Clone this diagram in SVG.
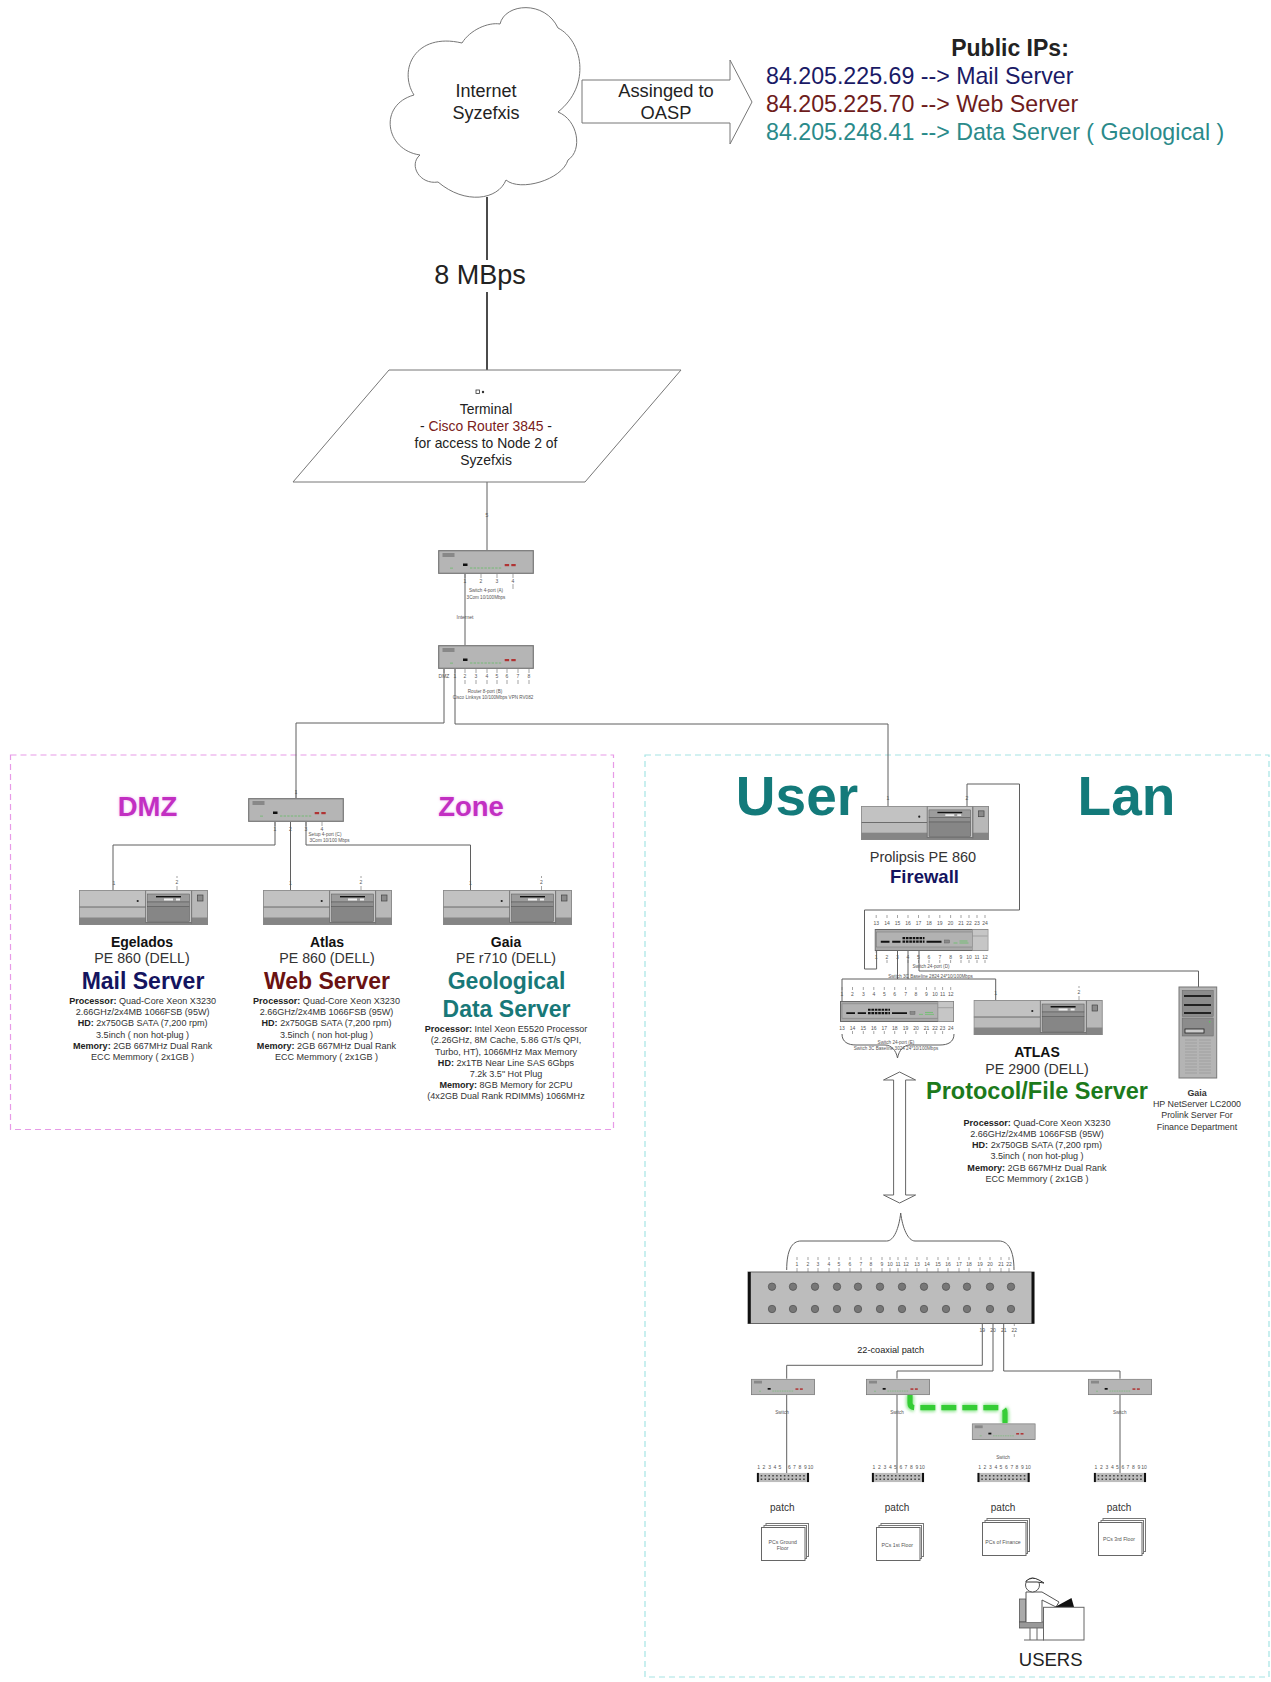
<svg xmlns="http://www.w3.org/2000/svg" width="1271" height="1682" viewBox="0 0 1271 1682">
<style>
text{font-family:"Liberation Sans",Arial,sans-serif;text-anchor:middle;fill:#222}
.c{fill:none;stroke:#5f5f5f;stroke-width:1}
.k{fill:none;stroke:#111;stroke-width:1.5}
.sh{fill:#fff;stroke:#777;stroke-width:1}
.tick{fill:none;stroke:#666;stroke-width:.6}
.p{font-size:5px;fill:#555}
.sm{font-size:4.6px;fill:#555}
.spec{font-size:9.05px;fill:#333}
.spec tspan{font-weight:bold;fill:#222}
.b15{font-size:14px;font-weight:bold;fill:#111}
.n15{font-size:14.2px;fill:#333}
.navy{fill:#14145f;font-weight:bold}
.red{fill:#6a1212;font-weight:bold}
.teal{fill:#187878;font-weight:bold}
.green{fill:#1c7a1c;font-weight:bold}
.ip{font-size:23.2px;text-anchor:start}
.mag{fill:#c22fc2;font-weight:bold;font-size:27.5px}
.big{fill:#137a7a;font-weight:bold;font-size:55px}
.patch{font-size:10px;fill:#333}
.doc{font-size:5.2px;fill:#555}
.lab{font-size:13.9px}
.fin{font-size:8.9px;fill:#333}
</style>
<defs>
<filter id="glow" x="-30%" y="-30%" width="160%" height="160%"><feGaussianBlur stdDeviation="1.6"/></filter>
<symbol id="sw4" viewBox="0 0 96 24" preserveAspectRatio="none">
<rect x=".7" y=".7" width="94.6" height="22.6" fill="#b5b5b5" stroke="#777" stroke-width="1.2"/>
<rect x="4.5" y="3" width="12" height="4" fill="#888"/>
<rect x="25" y="13.5" width="4.5" height="2.5" fill="#111"/>
<rect x="12" y="17.7" width="3" height=".8" fill="#6dbb6d"/>
<path d="M32 18H64" stroke="#6dbb6d" stroke-width=".9" stroke-dasharray="2.4 1.2" fill="none"/>
<rect x="66.7" y="14" width="4.4" height="2.2" fill="#b03434"/>
<rect x="73.3" y="14" width="4.4" height="2.2" fill="#b03434"/>
</symbol>
<symbol id="sw24" viewBox="0 0 114 22" preserveAspectRatio="none">
<rect x=".5" y=".5" width="113" height="21" fill="#a9a9a9" stroke="#666"/>
<rect x="2" y="3" width="96" height="15" fill="#b2b2b2" stroke="#777" stroke-width=".5"/>
<rect x="98" y=".5" width="15.5" height="21" fill="#c6c6c6" stroke="#888" stroke-width=".5"/>
<path d="M98 7H113" stroke="#888" stroke-width=".6"/>
<path d="M6.3 12.7H15M17.7 12.7H26M52 12.7H67" stroke="#111" stroke-width="2" fill="none"/>
<path d="M28 9.2H50M28 12.7H50" stroke="#111" stroke-width="2.2" stroke-dasharray="2.6 .8" fill="none"/>
<rect x="70" y="11" width="5" height="3" fill="#8a8a8a" stroke="#555" stroke-width=".4"/>
<path d="M79 14H83M85 12H93M85 14H94" stroke="#66c266" stroke-width=".8" fill="none"/>
</symbol>
<symbol id="server" viewBox="0 0 129 35" preserveAspectRatio="none">
<rect width="129" height="35" fill="#b8b8b8"/>
<rect x="0" y="0" width="67" height="17" fill="#c2c2c2"/>
<rect x="0" y="17" width="67" height="10.5" fill="#bbb"/>
<rect y="27.5" width="129" height="7.5" fill="#858585"/>
<path d="M0 17H67" stroke="#555" stroke-width=".8"/>
<rect x="66.7" y="0" width="46" height="32.5" fill="#c6c6c6" stroke="#666" stroke-width=".8"/>
<rect x="68.5" y="4" width="42" height="8" fill="#9c9c9c" stroke="#555" stroke-width=".5"/>
<path d="M77 6.7H102" stroke="#111" stroke-width="1.4"/>
<path d="M85 9.5H94M97 9.5H101" stroke="#eee" stroke-width="1.8"/>
<rect x="68.5" y="12" width="42" height="4.5" fill="#8f8f8f" stroke="#555" stroke-width=".5"/>
<rect x="68.5" y="16.5" width="42" height="15" fill="#868686" stroke="#555" stroke-width=".5"/>
<rect x="118.5" y="5" width="5.5" height="6" fill="#8a8a8a" stroke="#444" stroke-width=".7"/>
<rect x="112.7" y="0" width="16.3" height="35" fill="none" stroke="#777" stroke-width=".6"/>
<circle cx="58.7" cy="11" r="1.1" fill="#222"/>
<rect x=".4" y=".4" width="128.2" height="34.2" fill="none" stroke="#888" stroke-width=".8"/>
</symbol>
<symbol id="minipatch" viewBox="0 0 53 9.5" preserveAspectRatio="none">
<rect width="53" height="9.5" rx="1" fill="#bdbdbd"/>
<rect width="2.2" height="9.5" fill="#111"/><rect x="50.8" width="2.2" height="9.5" fill="#111"/>
<path d="M4 3H50M4 6.6H50" stroke="#444" stroke-width="1.5" stroke-dasharray="1.6 2.3" fill="none"/>
</symbol>
<symbol id="docs" viewBox="0 0 48 38" preserveAspectRatio="none">
<rect x="5" y=".5" width="42.5" height="33" fill="#fff" stroke="#777"/>
<rect x="3" y="2.5" width="42.5" height="33" fill="#fff" stroke="#777"/>
<rect x=".5" y="4.5" width="43.5" height="33" fill="#fff" stroke="#666"/>
</symbol>
</defs>
<rect width="1271" height="1682" fill="#fff"/>

<g id="zones">
<rect x="10.5" y="755" width="603" height="374.5" fill="none" stroke="#e79ae7" stroke-width="1.2" stroke-dasharray="6 4"/>
<rect x="645" y="755" width="624" height="922" fill="none" stroke="#a6e4e4" stroke-width="1.2" stroke-dasharray="6 4"/>
</g>

<g id="connectors">
<path class="k" d="M487 197V260M487 292V370"/>
<path class="c" d="M487 482V550"/>
<path class="c" d="M465 574V645"/>
<path class="c" d="M444 669V723H296V798"/>
<path class="c" d="M455 669V724H888V806"/>
<path class="c" d="M275 822V845H113V890"/>
<path class="c" d="M290.500 822V890"/>
<path class="c" d="M306 822V845H470.500V890"/>
<path class="c" d="M967 806V784H1019.500V910H864.500V969H876.600V951"/>
<path class="c" d="M897.500 951V979M842 1001V979H995.700V1000"/>
<path class="c" d="M908 951V979"/>
<path class="c" d="M919 951V971H1198.500V987"/>
<path class="c" d="M982.300 1323V1365.300H786.700V1378.700"/>
<path class="c" d="M993 1323V1371H897V1378.700"/>
<path class="c" d="M1003.700 1323V1371H1120V1378.700"/>
<path class="c" d="M786.700 1395V1482M897 1395V1482M1120 1395V1482"/>
<path d="M910 1395V1403Q910 1407.700 915 1407.700H1000Q1005 1407.700 1005 1412.700V1423" fill="none" stroke="#9be89b" stroke-width="8.500" stroke-dasharray="15 6" filter="url(#glow)"/>
<path d="M910 1395V1403Q910 1407.700 915 1407.700H1000Q1005 1407.700 1005 1412.700V1423" fill="none" stroke="#35cd35" stroke-width="5.200" stroke-dasharray="15 6"/>
<path id="brace-e" class="c" d="M842 1034C842 1042 848 1045 856 1045H885C891 1045 896 1050 897.500 1058C899 1050 904 1045 910 1045H940C948 1045 954 1042 954 1034"/>
<path id="brace-patch" class="c" d="M786.700 1270C786.700 1250 792 1241 801 1241H886.700C894 1241 899 1228 900.700 1213C902.500 1228 908 1241 915 1241H999C1008 1241 1014 1250 1014 1270"/>
<path id="updown-arrow" d="M899.600 1072L915.600 1080H905.600V1195H915.600L899.600 1203L883.500 1195H893.600V1080H883.500Z" fill="#fff" stroke="#666" stroke-width="1"/>
</g>

<g id="internet">
<path class="sh" d="M500 24C505 3 545 0 558 28C582 40 592 85 558 112C578 120 583 150 568 160C562 180 520 192 506 180C498 200 465 205 438 182C420 185 408 165 420 155C385 150 378 105 414 95C398 70 415 32 462 43C470 30 488 22 500 24Z"/>
<text x="486" y="97" font-size="18">Internet</text>
<text x="486" y="119" font-size="18">Syzefxis</text>
</g>
<g id="assign-arrow">
<path class="sh" d="M582 80H730V60L752 102L730 144V123H582Z"/>
<text x="666" y="97" font-size="18.300">Assinged to</text>
<text x="666" y="119" font-size="18.300">OASP</text>
</g>
<g id="public-ips">
<text x="1010" y="56" font-size="23" font-weight="bold" fill="#111">Public IPs:</text>
<text class="ip" x="766" y="84" style="fill:#1a1a66">84.205.225.69 --&gt; Mail Server</text>
<text class="ip" x="766" y="112" style="fill:#6e1c1c">84.205.225.70 --&gt; Web Server</text>
<text class="ip" x="766" y="140" style="fill:#2a8a8a">84.205.248.41 --&gt; Data Server ( Geological )</text>
</g>
<g id="speed"><text x="480" y="284" font-size="27">8 MBps</text></g>

<g id="terminal">
<path class="sh" d="M389 370H681L585 482H293Z"/>
<rect x="476" y="390" width="3.500" height="3.500" fill="none" stroke="#333" stroke-width=".8"/><circle cx="483" cy="392" r="1.200" fill="#333"/>
<text class="lab" x="486" y="413.500">Terminal</text>
<text class="lab" x="486" y="430.500"><tspan>- </tspan><tspan fill="#7a2020">Cisco Router 3845</tspan><tspan>  -</tspan></text>
<text class="lab" x="486" y="447.500">for access to Node 2 of</text>
<text class="lab" x="486" y="464.500">Syzefxis</text>
</g>

<g id="switch-a">
<use href="#sw4" x="438" y="550" width="96" height="24"/>
<path class="tick" d="M465 574V578M481 574V578M497 574V578M513 574V578M513 584V589"/>
<text class="p" x="487" y="517">5</text>
<text class="p" x="465" y="583">1</text><text class="p" x="481" y="583">2</text><text class="p" x="497" y="583">3</text><text class="p" x="513" y="583">4</text>
<text class="sm" x="486" y="592">Switch 4-port (A)</text>
<text class="sm" x="486" y="598.500">3Com 10/100Mbps</text>
<text class="p" x="465" y="619">Internet</text>
</g>
<g id="router-b">
<use href="#sw4" x="438" y="645" width="96" height="24"/>
<path class="tick" d="M444 669V673M455 669V673M465 669V673M476 669V673M487 669V673M497 669V673M507 669V673M518 669V673M529 669V673M465 680V684M476 680V684M487 680V684M497 680V684M507 680V684M518 680V684M529 680V684"/>
<text class="p" x="444" y="678">DMZ</text><text class="p" x="455" y="678">1</text><text class="p" x="465" y="678">2</text><text class="p" x="476" y="678">3</text><text class="p" x="487" y="678">4</text><text class="p" x="497" y="678">5</text><text class="p" x="507" y="678">6</text><text class="p" x="518" y="678">7</text><text class="p" x="529" y="678">8</text>
<text class="sm" x="485" y="693">Router 8-port (B)</text>
<text class="sm" x="493" y="699">Cisco Linksys 10/100Mbps VPN RV082</text>
</g>

<g id="dmz-zone">
<text class="mag" x="147.500" y="816" style="fill:#f2b4f2" filter="url(#glow)">DMZ</text>
<text class="mag" x="147.500" y="816">DMZ</text>
<text class="mag" x="471" y="816" style="fill:#f2b4f2" filter="url(#glow)">Zone</text>
<text class="mag" x="471" y="816">Zone</text>
</g>
<g id="switch-c">
<use href="#sw4" x="248" y="798" width="96" height="24"/>
<path class="tick" d="M296 790V798M275 822V826M290.500 822V826M306 822V826M322 822V826"/>
<text class="p" x="296" y="794" style="font-size:4.500px">1</text>
<text class="p" x="275" y="831">1</text><text class="p" x="290.500" y="831">2</text><text class="p" x="306" y="831">3</text><text class="p" x="322" y="831">4</text>
<text class="sm" x="325" y="835.500">Setup 4-port (C)</text>
<text class="sm" x="329.500" y="841.500">3Com 10/100 Mbps</text>
</g>

<g id="egelados">
<use href="#server" x="79" y="890" width="129" height="35"/>
<path class="tick" d="M177 876V878M177 886V890"/>
<text class="p" x="114" y="885">1</text><text class="p" x="177" y="884">2</text>
<text class="b15" x="142" y="947">Egelados</text>
<text class="n15" x="142" y="963">PE 860 (DELL)</text>
<text class="navy" x="143" y="989" font-size="23">Mail Server</text>
<text class="spec" x="142.600" y="1004"><tspan>Processor:</tspan>  Quad-Core Xeon X3230</text>
<text class="spec" x="142.600" y="1015">2.66GHz/2x4MB 1066FSB (95W)</text>
<text class="spec" x="142.600" y="1026"><tspan>HD:</tspan> 2x750GB SATA (7,200 rpm)</text>
<text class="spec" x="142.600" y="1038">3.5inch ( non hot-plug )</text>
<text class="spec" x="142.600" y="1049"><tspan>Memory:</tspan>  2GB 667MHz Dual Rank</text>
<text class="spec" x="142.600" y="1060">ECC Memmory ( 2x1GB )</text>
</g>
<g id="atlas-web">
<use href="#server" x="263" y="890" width="129" height="35"/>
<path class="tick" d="M361 876V878M361 886V890"/>
<text class="p" x="290.500" y="885">1</text><text class="p" x="361" y="884">2</text>
<text class="b15" x="327" y="947">Atlas</text>
<text class="n15" x="327" y="963">PE 860 (DELL)</text>
<text class="red" x="327" y="989" font-size="23">Web Server</text>
<text class="spec" x="326.500" y="1004"><tspan>Processor:</tspan>  Quad-Core Xeon X3230</text>
<text class="spec" x="326.500" y="1015">2.66GHz/2x4MB 1066FSB (95W)</text>
<text class="spec" x="326.500" y="1026"><tspan>HD:</tspan> 2x750GB SATA (7,200 rpm)</text>
<text class="spec" x="326.500" y="1038">3.5inch ( non hot-plug )</text>
<text class="spec" x="326.500" y="1049"><tspan>Memory:</tspan>  2GB 667MHz Dual Rank</text>
<text class="spec" x="326.500" y="1060">ECC Memmory ( 2x1GB )</text>
</g>
<g id="gaia-geo">
<use href="#server" x="443" y="890" width="129" height="35"/>
<path class="tick" d="M541.500 876V878M541.500 886V890"/>
<text class="p" x="470.500" y="885">1</text><text class="p" x="541.500" y="884">2</text>
<text class="b15" x="506" y="947">Gaia</text>
<text class="n15" x="506" y="963">PE r710 (DELL)</text>
<text class="teal" x="506.500" y="989" font-size="23">Geological</text>
<text class="teal" x="506.500" y="1017" font-size="23">Data Server</text>
<text class="spec" x="506" y="1032"><tspan>Processor:</tspan>  Intel Xeon E5520 Processor</text>
<text class="spec" x="506" y="1043">(2.26GHz, 8M Cache, 5.86 GT/s QPI,</text>
<text class="spec" x="506" y="1055">Turbo, HT), 1066MHz Max Memory</text>
<text class="spec" x="506" y="1066"><tspan>HD:</tspan> 2x1TB Near Line SAS 6Gbps</text>
<text class="spec" x="506" y="1077">7.2k 3.5" Hot Plug</text>
<text class="spec" x="506" y="1088"><tspan>Memory:</tspan>  8GB Memory for 2CPU</text>
<text class="spec" x="506" y="1099">(4x2GB Dual Rank RDIMMs) 1066MHz</text>
</g>

<g id="user-lan">
<text class="big" x="797" y="815">User</text>
<text class="big" x="1126.500" y="815" style="font-size:55px">Lan</text>
</g>
<g id="firewall">
<use href="#server" x="861" y="806" width="128" height="34"/>
<text class="p" x="888" y="800">1</text><text class="p" x="967" y="800">2</text>
<text class="n15" x="923" y="862" style="font-size:14.500px">Prolipsis PE 860</text>
<text class="navy" x="924.500" y="883" font-size="18.500">Firewall</text>
</g>
<g id="switch-d">
<use href="#sw24" x="874.500" y="929" width="114" height="22"/>
<path class="tick" d="M876.200 915V918M887 915V918M897.500 915V918M908 915V918M918.500 915V918M929 915V918M939.800 915V918M950.600 915V918M961 915V918M969 915V918M977 915V918M985 915V918M876.200 951V953M887 960V963M897.500 960V963M908 960V963M918.500 960V963M929 960V963M939.800 960V963M950.600 960V963M961 960V963M969 960V963M977 960V963M985 960V963"/>
<text class="p" x="876.200" y="925">13</text><text class="p" x="887" y="925">14</text><text class="p" x="897.500" y="925">15</text><text class="p" x="908" y="925">16</text><text class="p" x="918.500" y="925">17</text><text class="p" x="929" y="925">18</text><text class="p" x="939.800" y="925">19</text><text class="p" x="950.600" y="925">20</text><text class="p" x="961" y="925">21</text><text class="p" x="969" y="925">22</text><text class="p" x="977" y="925">23</text><text class="p" x="985" y="925">24</text>
<text class="p" x="876.200" y="959">1</text><text class="p" x="887" y="959">2</text><text class="p" x="897.500" y="959">3</text><text class="p" x="908" y="959">4</text><text class="p" x="918.500" y="959">5</text><text class="p" x="929" y="959">6</text><text class="p" x="939.800" y="959">7</text><text class="p" x="950.600" y="959">8</text><text class="p" x="961" y="959">9</text><text class="p" x="969" y="959">10</text><text class="p" x="977" y="959">11</text><text class="p" x="985" y="959">12</text>
<text class="sm" x="931" y="967.500">Switch 24-port (D)</text>
<text class="sm" x="930.500" y="978">Switch 3C Baseline  2824 24*10/100Mbps</text>
</g>
<g id="switch-e">
<use href="#sw24" x="840" y="1001" width="114" height="21"/>
<path class="tick" d="M842 987V990M852.500 987V990M863.300 987V990M873.800 987V990M884.300 987V990M894.700 987V990M905.600 987V990M916 987V990M926.500 987V990M935 987V990M942.600 987V990M950.700 987V990M852.500 1031V1034M863.300 1031V1034M873.800 1031V1034M884.300 1031V1034M894.700 1031V1034M905.600 1031V1034M916 1031V1034M926.500 1031V1034M935 1031V1034M942.600 1031V1034"/>
<text class="p" x="842" y="996">1</text><text class="p" x="852.500" y="996">2</text><text class="p" x="863.300" y="996">3</text><text class="p" x="873.800" y="996">4</text><text class="p" x="884.300" y="996">5</text><text class="p" x="894.700" y="996">6</text><text class="p" x="905.600" y="996">7</text><text class="p" x="916" y="996">8</text><text class="p" x="926.500" y="996">9</text><text class="p" x="935" y="996">10</text><text class="p" x="942.600" y="996">11</text><text class="p" x="950.700" y="996">12</text>
<text class="p" x="842" y="1030">13</text><text class="p" x="852.500" y="1030">14</text><text class="p" x="863.300" y="1030">15</text><text class="p" x="873.800" y="1030">16</text><text class="p" x="884.300" y="1030">17</text><text class="p" x="894.700" y="1030">18</text><text class="p" x="905.600" y="1030">19</text><text class="p" x="916" y="1030">20</text><text class="p" x="926.500" y="1030">21</text><text class="p" x="935" y="1030">22</text><text class="p" x="942.600" y="1030">23</text><text class="p" x="950.700" y="1030">24</text>
<text class="sm" x="896" y="1044">Switch 24-port (E)</text>
<text class="sm" x="896" y="1050">Switch 3C Baseline 3024 24*10/100Mbps</text>
</g>
<g id="atlas-file">
<use href="#server" x="973.600" y="1000" width="129" height="35"/>
<path class="tick" d="M1079 986V988M1079 996V1000"/>
<text class="p" x="995.700" y="995">1</text><text class="p" x="1079" y="994">2</text>
<text class="b15" x="1037" y="1057">ATLAS</text>
<text class="n15" x="1037" y="1074">PE 2900 (DELL)</text>
<text class="green" x="1037" y="1099" font-size="23.500">Protocol/File Server</text>
<text class="spec" x="1037" y="1126"><tspan>Processor:</tspan>  Quad-Core Xeon X3230</text>
<text class="spec" x="1037" y="1137">2.66GHz/2x4MB 1066FSB (95W)</text>
<text class="spec" x="1037" y="1148"><tspan>HD:</tspan> 2x750GB SATA (7,200 rpm)</text>
<text class="spec" x="1037" y="1159">3.5inch ( non hot-plug )</text>
<text class="spec" x="1037" y="1171"><tspan>Memory:</tspan>  2GB 667MHz Dual Rank</text>
<text class="spec" x="1037" y="1182">ECC Memmory ( 2x1GB )</text>
</g>
<g id="gaia-finance">
<rect x="1179" y="987" width="37.700" height="91" fill="#b4b4b4" stroke="#777"/>
<rect x="1182.200" y="990.300" width="31" height="26" fill="#8c8c8c" stroke="#666" stroke-width=".5"/>
<path d="M1184 996H1211M1184 1005H1211M1184 1013H1211" stroke="#222" stroke-width="1.800"/>
<rect x="1182.200" y="1018" width="31" height="18" fill="#8c8c8c" stroke="#666" stroke-width=".5"/>
<rect x="1185" y="1029" width="19" height="4" fill="#ccc" stroke="#222" stroke-width=".8"/>
<rect x="1209" y="1021" width="1.500" height="1.500" fill="#5fc05f"/>
<path d="M1185 1040H1197M1199 1040H1211M1185 1043H1197M1199 1043H1211M1185 1046H1197M1199 1046H1211M1185 1049H1197M1199 1049H1211M1185 1052H1197M1199 1052H1211M1185 1055H1197M1199 1055H1211M1185 1058H1197M1199 1058H1211M1185 1061H1197M1199 1061H1211M1185 1064H1197M1199 1064H1211M1185 1067H1197M1199 1067H1211M1185 1070H1197M1199 1070H1211M1185 1073H1197M1199 1073H1211" stroke="#999" stroke-width=".7"/>
<text class="fin" x="1197" y="1096" font-weight="bold">Gaia</text>
<text class="fin" x="1197" y="1107">HP NetServer LC2000</text>
<text class="fin" x="1197" y="1118">Prolink Server For</text>
<text class="fin" x="1197" y="1130">Finance Department</text>
</g>

<g id="patch-22">
<rect x="748" y="1272" width="286" height="51.500" fill="#bcbcbc" stroke="#666"/>
<rect x="748" y="1272" width="2.800" height="51.500" fill="#111"/><rect x="1031.500" y="1272" width="2.800" height="51.500" fill="#111"/>
<g fill="#777" stroke="#555" stroke-width=".8">
<circle cx="772" cy="1286.700" r="3.700"/><circle cx="793" cy="1286.700" r="3.700"/><circle cx="815" cy="1286.700" r="3.700"/><circle cx="837" cy="1286.700" r="3.700"/><circle cx="858" cy="1286.700" r="3.700"/><circle cx="880" cy="1286.700" r="3.700"/><circle cx="902" cy="1286.700" r="3.700"/><circle cx="924" cy="1286.700" r="3.700"/><circle cx="946" cy="1286.700" r="3.700"/><circle cx="967" cy="1286.700" r="3.700"/><circle cx="990" cy="1286.700" r="3.700"/><circle cx="1011" cy="1286.700" r="3.700"/>
<circle cx="772" cy="1309" r="3.700"/><circle cx="793" cy="1309" r="3.700"/><circle cx="815" cy="1309" r="3.700"/><circle cx="837" cy="1309" r="3.700"/><circle cx="858" cy="1309" r="3.700"/><circle cx="880" cy="1309" r="3.700"/><circle cx="902" cy="1309" r="3.700"/><circle cx="924" cy="1309" r="3.700"/><circle cx="946" cy="1309" r="3.700"/><circle cx="967" cy="1309" r="3.700"/><circle cx="990" cy="1309" r="3.700"/><circle cx="1011" cy="1309" r="3.700"/>
</g>
<path class="tick" d="M797 1257V1260M808 1257V1260M818 1257V1260M829 1257V1260M839 1257V1260M850 1257V1260M861 1257V1260M871 1257V1260M882 1257V1260M890 1257V1260M898 1257V1260M906 1257V1260M917 1257V1260M927 1257V1260M938 1257V1260M948 1257V1260M959 1257V1260M969 1257V1260M980 1257V1260M990 1257V1260M1001 1257V1260M1009 1257V1260M797 1268V1272M808 1268V1272M818 1268V1272M829 1268V1272M839 1268V1272M850 1268V1272M861 1268V1272M871 1268V1272M882 1268V1272M890 1268V1272M898 1268V1272M906 1268V1272M917 1268V1272M927 1268V1272M938 1268V1272M948 1268V1272M959 1268V1272M969 1268V1272M980 1268V1272M990 1268V1272M1001 1268V1272M1009 1268V1272"/>
<text class="p" x="797" y="1266">1</text><text class="p" x="808" y="1266">2</text><text class="p" x="818" y="1266">3</text><text class="p" x="829" y="1266">4</text><text class="p" x="839" y="1266">5</text><text class="p" x="850" y="1266">6</text><text class="p" x="861" y="1266">7</text><text class="p" x="871" y="1266">8</text><text class="p" x="882" y="1266">9</text><text class="p" x="890" y="1266">10</text><text class="p" x="898" y="1266">11</text><text class="p" x="906" y="1266">12</text><text class="p" x="917" y="1266">13</text><text class="p" x="927" y="1266">14</text><text class="p" x="938" y="1266">15</text><text class="p" x="948" y="1266">16</text><text class="p" x="959" y="1266">17</text><text class="p" x="969" y="1266">18</text><text class="p" x="980" y="1266">19</text><text class="p" x="990" y="1266">20</text><text class="p" x="1001" y="1266">21</text><text class="p" x="1009" y="1266">22</text>
<text class="p" x="982.300" y="1332">19</text><text class="p" x="993" y="1332">20</text><text class="p" x="1003.700" y="1332">21</text><text class="p" x="1014.300" y="1332">22</text>
<path class="tick" d="M1014.300 1323V1326M1014.300 1334V1337"/>
<text x="890.700" y="1352.500" font-size="9.200" fill="#333">22-coaxial patch</text>
</g>

<g id="floor-ground">
<use href="#sw4" x="751" y="1378.700" width="64" height="16.500"/>
<text class="sm" x="782" y="1414">Switch</text>
<text class="p" x="758.700" y="1469">1</text><text class="p" x="764" y="1469">2</text><text class="p" x="769.700" y="1469">3</text><text class="p" x="775" y="1469">4</text><text class="p" x="780" y="1469">5</text><text class="p" x="789.300" y="1469">6</text><text class="p" x="794.300" y="1469">7</text><text class="p" x="800" y="1469">8</text><text class="p" x="805.300" y="1469">9</text><text class="p" x="810.500" y="1469">10</text>
<use href="#minipatch" x="756.700" y="1472.700" width="52.500" height="9.500"/>
<text class="patch" x="782.300" y="1511">patch</text>
<use href="#docs" x="761" y="1523" width="48" height="38"/>
<text class="doc" x="782.700" y="1543.500">PCs Ground</text><text class="doc" x="782.700" y="1549.500">Floor</text>
</g>
<g id="floor-first">
<use href="#sw4" x="866" y="1378.700" width="64" height="16.500"/>
<text class="sm" x="897" y="1414">Switch</text>
<text class="p" x="874" y="1469">1</text><text class="p" x="879.300" y="1469">2</text><text class="p" x="885" y="1469">3</text><text class="p" x="890.300" y="1469">4</text><text class="p" x="895.500" y="1469">5</text><text class="p" x="901" y="1469">6</text><text class="p" x="906" y="1469">7</text><text class="p" x="911.500" y="1469">8</text><text class="p" x="917" y="1469">9</text><text class="p" x="922" y="1469">10</text>
<use href="#minipatch" x="871.700" y="1472.700" width="52.500" height="9.500"/>
<text class="patch" x="897" y="1511">patch</text>
<use href="#docs" x="876" y="1523" width="48" height="38"/>
<text class="doc" x="897.300" y="1546.500">PCs 1st Floor</text>
</g>
<g id="floor-finance">
<use href="#sw4" x="971.700" y="1423.300" width="64" height="16.700"/>
<text class="sm" x="1003" y="1459">Switch</text>
<text class="p" x="979.700" y="1469">1</text><text class="p" x="985" y="1469">2</text><text class="p" x="990.500" y="1469">3</text><text class="p" x="996" y="1469">4</text><text class="p" x="1001" y="1469">5</text><text class="p" x="1006.500" y="1469">6</text><text class="p" x="1012" y="1469">7</text><text class="p" x="1017" y="1469">8</text><text class="p" x="1022.500" y="1469">9</text><text class="p" x="1028" y="1469">10</text>
<use href="#minipatch" x="977.300" y="1472.700" width="52.500" height="9.500"/>
<text class="patch" x="1003" y="1511">patch</text>
<use href="#docs" x="982" y="1518" width="48" height="38"/>
<text class="doc" x="1003" y="1544">PCs of Finance</text>
</g>
<g id="floor-third">
<use href="#sw4" x="1088" y="1378.700" width="64" height="16.500"/>
<text class="sm" x="1119.700" y="1414">Switch</text>
<text class="p" x="1096" y="1469">1</text><text class="p" x="1101.300" y="1469">2</text><text class="p" x="1107" y="1469">3</text><text class="p" x="1112.300" y="1469">4</text><text class="p" x="1117.500" y="1469">5</text><text class="p" x="1123" y="1469">6</text><text class="p" x="1128" y="1469">7</text><text class="p" x="1133.500" y="1469">8</text><text class="p" x="1139" y="1469">9</text><text class="p" x="1144" y="1469">10</text>
<use href="#minipatch" x="1093.700" y="1472.700" width="52.500" height="9.500"/>
<text class="patch" x="1119" y="1511">patch</text>
<use href="#docs" x="1098" y="1518" width="48" height="38"/>
<text class="doc" x="1119" y="1541">PCs 3rd Floor</text>
</g>

<g id="users">
<rect x="1019.500" y="1599" width="6.500" height="23" fill="#aaa" stroke="#555" stroke-width=".8"/>
<rect x="1019.500" y="1622" width="24" height="6" fill="#999" stroke="#555" stroke-width=".8"/>
<path d="M1030 1628V1640M1037 1628V1640M1024 1640H1044" fill="none" stroke="#666"/>
<path d="M1026 1622V1592H1042L1059 1602L1056 1607L1042 1600V1622" fill="#fff" stroke="#555"/>
<circle cx="1032.500" cy="1585" r="7" fill="#fff" stroke="#555"/>
<path d="M1026 1581Q1032 1576 1039 1580L1044 1583L1037 1582H1026Z" fill="#fff" stroke="#333"/>
<path d="M1055 1607L1071.500 1598L1074 1607Z" fill="#111"/>
<rect x="1043.500" y="1607.300" width="40.500" height="32.700" fill="#fff" stroke="#666"/>
<text x="1050.700" y="1665.500" font-size="18.500" fill="#222">USERS</text>
</g>
</svg>
